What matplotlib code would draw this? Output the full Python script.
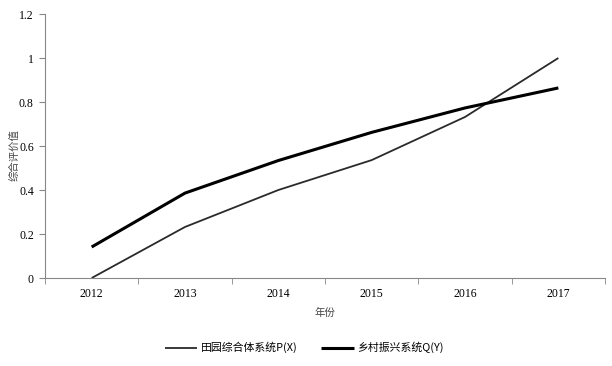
import matplotlib
matplotlib.use("Agg")
import matplotlib.pyplot as plt
import numpy as np

years = ["2012", "2013", "2014", "2015", "2016", "2017"]
p_values = [0.0, 0.232, 0.40, 0.536, 0.732, 1.0]
q_values = [0.141, 0.386, 0.534, 0.662, 0.773, 0.864]
series_names = ["田园综合体系统P(X)", "乡村振兴系统Q(Y)"]
y_ticks = [0, 0.2, 0.4, 0.6, 0.8, 1, 1.2]
y_tick_labels = ["0", "0.2", "0.4", "0.6", "0.8", "1", "1.2"]

cjk = ["Noto Sans CJK SC", "DejaVu Sans"]
serif = ["Liberation Serif", "Noto Sans CJK SC"]

fig = plt.figure(figsize=(6.12, 3.66), dpi=100)
ax = fig.add_axes([0.0735, 0.2404, 0.9151, 0.7213])

x = np.arange(len(years))
ax.plot(x, p_values, color="#2a2a2a", lw=1.3, label=series_names[0], solid_capstyle="butt")
ax.plot(x, q_values, color="#000000", lw=2.2, label=series_names[1], solid_capstyle="butt")

ax.set_xlim(-0.5, len(years) - 0.5)
ax.set_ylim(0, 1.2)
ax.set_xticks(x)
ax.set_xticklabels(years, fontfamily=serif, fontsize=8.5)
ax.set_xticks(np.arange(-0.5, len(years), 1.0), minor=True)
ax.tick_params(axis="x", which="major", length=0, pad=7)
ax.tick_params(axis="x", which="minor", length=4, direction="out", color="#888888")
ax.set_yticks(y_ticks)
ax.set_yticklabels(y_tick_labels, fontfamily=serif, fontsize=8.5)
ax.tick_params(axis="y", length=4, direction="out", color="#888888", pad=4)

for s in ["top", "right"]:
    ax.spines[s].set_visible(False)
for s in ["left", "bottom"]:
    ax.spines[s].set_color("#888888")
    ax.spines[s].set_linewidth(0.8)

ax.set_ylabel("综合评价值", fontfamily=cjk, fontsize=7.5, color="#444444")
ax.yaxis.set_label_coords(-0.046, 0.466)
ax.set_xlabel("年份", fontfamily=cjk, fontsize=7.5, color="#444444", labelpad=6)

leg = fig.legend(loc="center", bbox_to_anchor=(0.497, 0.05), ncol=2, frameon=False,
                 prop={"family": cjk, "size": 7.8}, handlelength=3.0, columnspacing=2.2,
                 handletextpad=0.3)

fig.savefig("out.png", dpi=100)
